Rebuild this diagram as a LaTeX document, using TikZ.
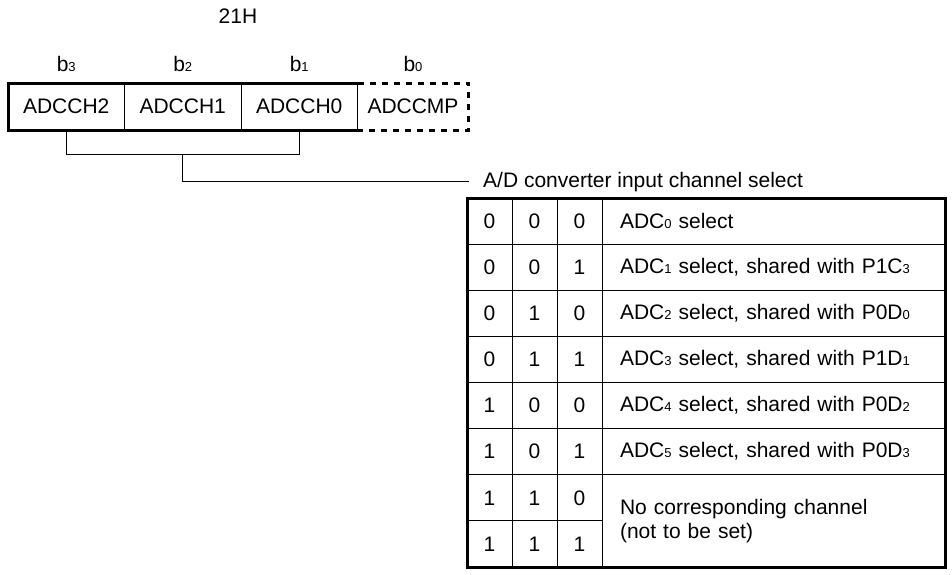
\documentclass[tikz,border=0pt]{standalone}
\usepackage{fontspec}
\setmainfont{Liberation Sans}
\usetikzlibrary{positioning}
\newcommand{\lowidx}[1]{{\fontsize{13}{13}\selectfont #1}}
\tikzset{
  regcell/.style={draw, line width=1pt, minimum width=116.5pt,
    minimum height=47pt, inner sep=0pt, outer sep=0pt}, % one bit of 21H
  bitlabel/.style={inner sep=0pt}, % b3 ... b0 above the register
  numcell/.style={draw, line width=1pt, minimum width=45pt,
    minimum height=46.125pt, inner sep=0pt, outer sep=0pt}, % 0/1 cells
  fncell/.style={draw, line width=1pt, minimum height=46.125pt,
    text width=307pt, inner xsep=18pt, inner ysep=0pt, outer sep=0pt,
    align=left}, % meaning of the code
  heavy/.style={line width=3pt}, % outer borders
  link/.style={line width=1pt}, % bracket lines
}

\begin{document}
\begin{tikzpicture}[x=1pt, y=-1pt, font=\fontsize{21}{24}\selectfont]
    \useasboundingbox (0,0) rectangle (952,574);

    % register 21H
    \node[regcell, anchor=north west] (ch_2) at (8,83) {ADCCH2};
    \node[regcell, right=0pt of ch_2] (ch_1) {ADCCH1};
    \node[regcell, right=0pt of ch_1] (ch_0) {ADCCH0};
    \node[regcell, draw=none, minimum width=111pt, right=0pt of ch_0] (cmp) {ADCCMP};

    \draw[heavy] (ch_0.north east) -- (ch_2.north west) -- (ch_2.south west)
      -- (ch_0.south east);
    \draw[heavy, dash pattern=on 6pt off 6pt] (ch_0.north east)
      -- (cmp.north east) -- (cmp.south east) -- (ch_0.south east);

    \node[bitlabel, above=11pt of ch_2] (bit_3) {b\lowidx{3}};
    \node[bitlabel, above=11pt of ch_1] (bit_2) {b\lowidx{2}};
    \node[bitlabel, above=11pt of ch_0] (bit_1) {b\lowidx{1}};
    \node[bitlabel, above=11pt of cmp] (bit_0) {b\lowidx{0}};
    \node[anchor=base, inner sep=0pt] (addr) at (238,23) {21H};

    % bracket to the title of the table
    \node[anchor=base west, inner sep=0pt] (sel_title) at (483,187)
      {A/D converter input channel select};
    \draw[link] (ch_2.south) -- ++(0,24) -| (ch_0.south);
    \draw[link] (ch_1.south) ++(0,24) |- (sel_title.west -| cmp.east);

    % table of codes
    \node[numcell, anchor=north west] (r0_b2) at (467,198) {0};
    \node[numcell, right=0pt of r0_b2] (r0_b1) {0};
    \node[numcell, right=0pt of r0_b1] (r0_b0) {0};
    \node[fncell, right=0pt of r0_b0] (r0_fn) {ADC\lowidx{0} select};

    \node[numcell, below=0pt of r0_b2] (r1_b2) {0};
    \node[numcell, right=0pt of r1_b2] (r1_b1) {0};
    \node[numcell, right=0pt of r1_b1] (r1_b0) {1};
    \node[fncell, right=0pt of r1_b0] (r1_fn)
      {ADC\lowidx{1} select, shared with P1C\lowidx{3}};

    \node[numcell, below=0pt of r1_b2] (r2_b2) {0};
    \node[numcell, right=0pt of r2_b2] (r2_b1) {1};
    \node[numcell, right=0pt of r2_b1] (r2_b0) {0};
    \node[fncell, right=0pt of r2_b0] (r2_fn)
      {ADC\lowidx{2} select, shared with P0D\lowidx{0}};

    \node[numcell, below=0pt of r2_b2] (r3_b2) {0};
    \node[numcell, right=0pt of r3_b2] (r3_b1) {1};
    \node[numcell, right=0pt of r3_b1] (r3_b0) {1};
    \node[fncell, right=0pt of r3_b0] (r3_fn)
      {ADC\lowidx{3} select, shared with P1D\lowidx{1}};

    \node[numcell, below=0pt of r3_b2] (r4_b2) {1};
    \node[numcell, right=0pt of r4_b2] (r4_b1) {0};
    \node[numcell, right=0pt of r4_b1] (r4_b0) {0};
    \node[fncell, right=0pt of r4_b0] (r4_fn)
      {ADC\lowidx{4} select, shared with P0D\lowidx{2}};

    \node[numcell, below=0pt of r4_b2] (r5_b2) {1};
    \node[numcell, right=0pt of r5_b2] (r5_b1) {0};
    \node[numcell, right=0pt of r5_b1] (r5_b0) {1};
    \node[fncell, right=0pt of r5_b0] (r5_fn)
      {ADC\lowidx{5} select, shared with P0D\lowidx{3}};

    \node[numcell, below=0pt of r5_b2] (r6_b2) {1};
    \node[numcell, right=0pt of r6_b2] (r6_b1) {1};
    \node[numcell, right=0pt of r6_b1] (r6_b0) {0};
    \node[fncell, minimum height=92.25pt, anchor=north west] (r6_fn)
      at (r6_b0.north east) {No corresponding channel\\(not to be set)};

    \node[numcell, below=0pt of r6_b2] (r7_b2) {1};
    \node[numcell, right=0pt of r7_b2] (r7_b1) {1};
    \node[numcell, right=0pt of r7_b1] (r7_b0) {1};

    \draw[heavy] (r0_b2.north west) rectangle (r6_fn.south east);
\end{tikzpicture}
\end{document}
